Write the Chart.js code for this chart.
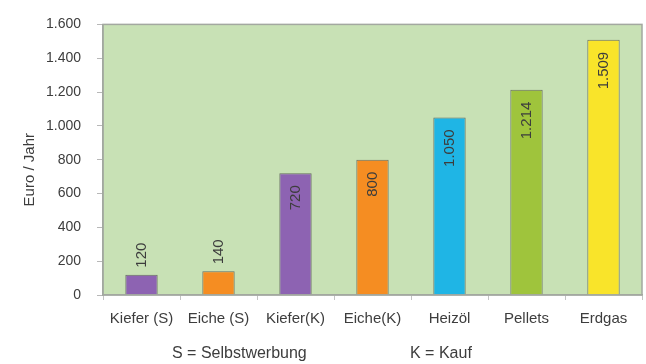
<!DOCTYPE html>
<html lang="de">
<head>
<meta charset="utf-8">
<title>Heizkosten pro Jahr</title>
<script src="https://cdn.jsdelivr.net/npm/chart.js@4/dist/chart.umd.min.js"></script>
<style>
  html, body { margin: 0; padding: 0; background: #ffffff; }
  #wrap { width: 646px; height: 364px; position: relative; }
</style>
</head>
<body>
<div id="wrap"><canvas id="chart"></canvas></div>
<script>
// Heizkosten je Brennstoff (Euro / Jahr)
const categories = ['Kiefer (S)', 'Eiche (S)', 'Kiefer(K)', 'Eiche(K)', 'Heizöl', 'Pellets', 'Erdgas'];
const costs = [120, 140, 720, 800, 1050, 1214, 1509];
const barColors = ['#8d63b2', '#f58d22', '#8d63b2', '#f58d22', '#1fb5e5', '#9fc43c', '#f9e42a'];
const yTicks = [0, 200, 400, 600, 800, 1000, 1200, 1400, 1600];
const yAxisTitle = 'Euro / Jahr';
const footerNotes = ['S = Selbstwerbung', 'K = Kauf'];

const fmt = v => v.toLocaleString('de-DE');
const FONT = '"Liberation Sans", Arial, sans-serif';
const TEXT = '#3d3d3d';

// Grüner Plotbereich mit grauem Rahmen
const plotBackground = {
  id: 'plotBackground',
  beforeDraw(chart) {
    const { ctx, chartArea: a } = chart;
    ctx.save();
    ctx.fillStyle = '#c8e1b5';
    ctx.fillRect(a.left, a.top, a.right - a.left, a.bottom - a.top);
    ctx.restore();
  },
  afterDraw(chart) {
    const { ctx, chartArea: a } = chart;
    ctx.save();
    ctx.strokeStyle = '#a3a8a0';
    ctx.lineWidth = 1.5;
    ctx.strokeRect(a.left, a.top, a.right - a.left, a.bottom - a.top);
    ctx.restore();
  }
};

// Werte als gedrehte Beschriftung an den Säulen
const valueLabels = {
  id: 'valueLabels',
  afterDatasetsDraw(chart) {
    const { ctx } = chart;
    const meta = chart.getDatasetMeta(0);
    const data = chart.data.datasets[0].data;
    ctx.save();
    ctx.font = '15px ' + FONT;
    ctx.fillStyle = TEXT;
    ctx.textBaseline = 'middle';
    meta.data.forEach((bar, i) => {
      const v = data[i];
      ctx.save();
      if (v >= 500) {
        ctx.translate(bar.x, bar.y + 12);
        ctx.rotate(-Math.PI / 2);
        ctx.textAlign = 'right';
      } else {
        ctx.translate(bar.x, bar.y - 7);
        ctx.rotate(-Math.PI / 2);
        ctx.textAlign = 'left';
      }
      ctx.fillText(fmt(v), 0, 0);
      ctx.restore();
    });
    ctx.restore();
  }
};

// Achsentitel und Legende zu den Abkürzungen
const annotations = {
  id: 'annotations',
  afterDraw(chart) {
    const { ctx, chartArea: a } = chart;
    ctx.save();
    ctx.fillStyle = TEXT;
    ctx.textBaseline = 'middle';

    ctx.font = '15px ' + FONT;
    ctx.save();
    ctx.translate(30, (a.top + a.bottom) / 2 + 10);
    ctx.rotate(-Math.PI / 2);
    ctx.textAlign = 'center';
    ctx.fillText(yAxisTitle, 0, 0);
    ctx.restore();

    ctx.font = '16px ' + FONT;
    ctx.textAlign = 'left';
    ctx.fillText(footerNotes[0], 172, 354);
    ctx.fillText(footerNotes[1], 410, 354);
    ctx.restore();
  }
};

new Chart(document.getElementById('chart'), {
  type: 'bar',
  data: {
    labels: categories,
    datasets: [{
      data: costs,
      backgroundColor: barColors,
      borderColor: 'rgba(70,70,70,0.75)',
      borderWidth: 1,
      barPercentage: 0.42,
      categoryPercentage: 1
    }]
  },
  options: {
    responsive: true,
    maintainAspectRatio: false,
    animation: false,
    events: [],
    layout: { padding: { left: 0, right: 4, top: 18, bottom: 0 } },
    plugins: {
      legend: { display: false },
      tooltip: { enabled: false }
    },
    scales: {
      x: {
        grid: { display: true, drawOnChartArea: false, offset: true, tickLength: 5, color: '#c4c4c4' },
        border: { display: true, color: '#a3a8a0', width: 1.5 },
        ticks: { color: TEXT, font: { family: FONT, size: 15 }, padding: 10, maxRotation: 0, autoSkip: false },
        afterFit(scale) { scale.height = 69; }
      },
      y: {
        min: 0,
        max: 1600,
        afterBuildTicks(scale) { scale.ticks = yTicks.map(v => ({ value: v })); },
        grid: { display: true, drawOnChartArea: false, tickLength: 6, color: '#b8b8b8' },
        border: { display: true, color: '#a3a8a0', width: 1.5 },
        ticks: {
          color: TEXT,
          font: { family: FONT, size: 14 },
          padding: 16,
          callback: v => fmt(v)
        },
        afterFit(scale) { scale.width = 103; }
      }
    }
  },
  plugins: [plotBackground, valueLabels, annotations]
});
</script>
</body>
</html>
